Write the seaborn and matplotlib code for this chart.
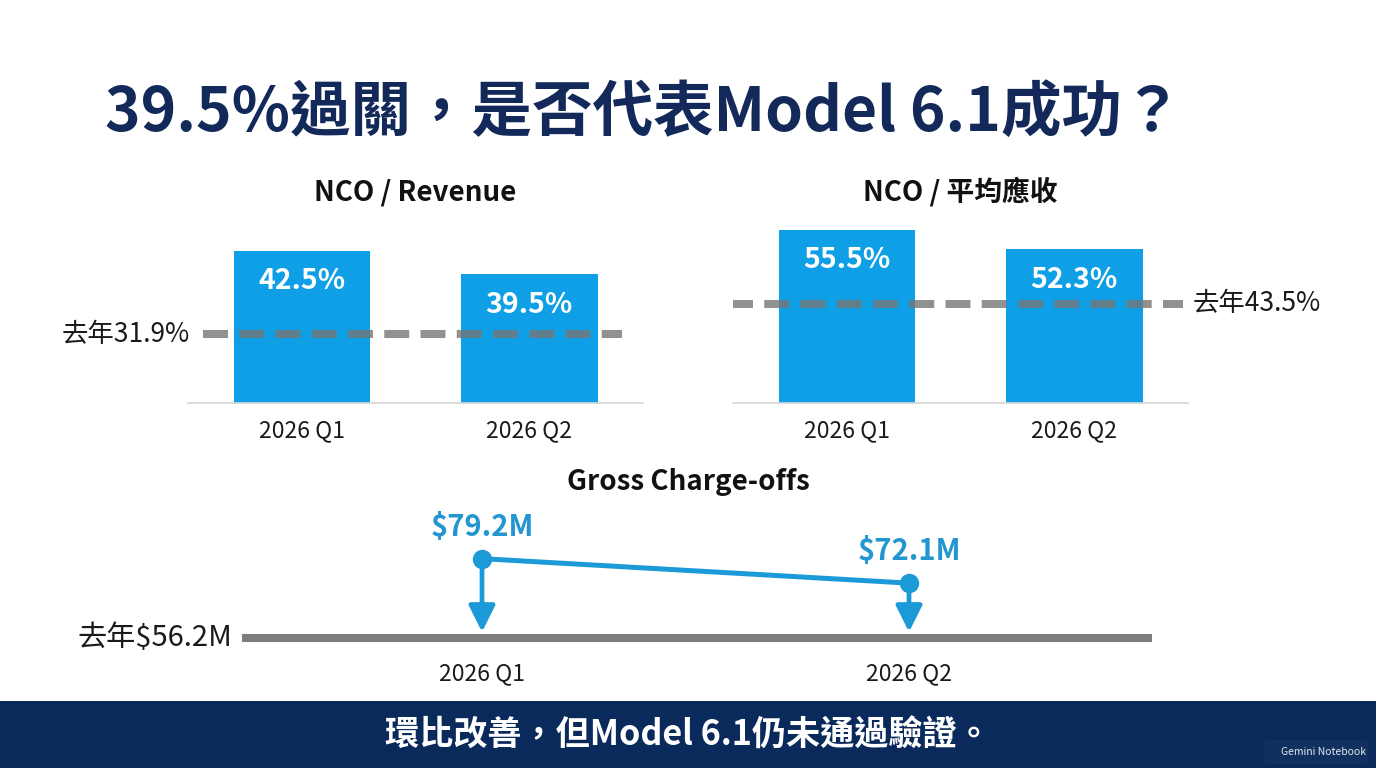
import matplotlib
matplotlib.use("Agg")
import matplotlib.pyplot as plt
import seaborn as sns
from matplotlib.patches import Rectangle, FancyBboxPatch

# ---------------- data ----------------
quarters = ["2026 Q1", "2026 Q2"]
nco_revenue = [42.5, 39.5]
nco_revenue_last_year = 31.9
nco_avg_recv = [55.5, 52.3]
nco_avg_recv_last_year = 43.5
gross_chargeoffs = [79.2, 72.1]
gross_last_year = 56.2

title_text = "39.5%過關，是否代表Model 6.1成功？"
footer_text = "環比改善，但Model 6.1仍未通過驗證。"
sub1 = "NCO / Revenue"
sub2 = "NCO / 平均應收"
sub3 = "Gross Charge-offs"
watermark = "Gemini Notebook"

# ---------------- style ----------------
sns.set_theme(style="white")
FAM = ["Noto Sans CJK TC", "DejaVu Sans"]
plt.rcParams["font.family"] = FAM
plt.rcParams["axes.unicode_minus"] = False

BLUE = "#0E9FE6"
LINE_BLUE = "#1C9AD8"
LABEL_BLUE = "#2396D2"
NAVY = "#12295A"
FOOT = "#0B2A5C"
GRAY = "#767676"
TXT = "#1A1A1A"

W, H = 1376, 768
fig = plt.figure(figsize=(W / 100, H / 100), dpi=100)
fig.patch.set_facecolor("white")


def px_axes(x0, x1, ytop, ybot):
    return fig.add_axes([x0 / W, 1 - ybot / H, (x1 - x0) / W, (ybot - ytop) / H])


def fig_text(x, y, s, **kw):
    fig.text(x / W, 1 - y / H, s, **kw)


# ---------------- title ----------------
fig_text(105, 113, title_text, fontsize=43.6, fontweight="bold", color=NAVY,
         ha="left", va="center", family=FAM)


# ---------------- bar panels ----------------
def bar_panel(x0, x1, vals, ref, ylim, subtitle, ref_label, label_side):
    ax = px_axes(x0, x1, 215, 403)
    ax.set_facecolor("none")
    sns.barplot(x=quarters, y=vals, ax=ax, color=BLUE, saturation=1,
                width=0.6, edgecolor="none")
    ax.set_xlim(-0.5, 1.5)
    ax.set_ylim(*ylim)
    for s in ["top", "right", "left"]:
        ax.spines[s].set_visible(False)
    ax.spines["bottom"].set_color("#D6D6D6")
    ax.spines["bottom"].set_linewidth(1.2)
    ax.spines["bottom"].set_zorder(5)
    ax.set_yticks([])
    ax.set_ylabel("")
    ax.tick_params(axis="x", length=0, pad=12, labelsize=16.5, labelcolor=TXT)
    for i, v in enumerate(vals):
        ax.annotate(f"{v:.1f}%", xy=(i, v), xytext=(0, -22),
                    textcoords="offset points", ha="center", va="center",
                    fontsize=20.5, fontweight="bold", color="white", family=FAM,
                    zorder=6)
    if label_side == "left":
        ax.axhline(ref, xmin=0.033, xmax=0.953, color=GRAY, alpha=0.8,
                   lw=5.8, linestyle=(0, (3.1, 1.4)), zorder=4)
        ax.annotate(ref_label, xy=(0, ref), xycoords=("axes fraction", "data"),
                    xytext=(1, 0), textcoords="offset points",
                    ha="right", va="center", fontsize=19, color=TXT, family=FAM)
    else:
        ax.axhline(ref, xmin=-0.011, xmax=0.99, color=GRAY, alpha=0.8,
                   lw=5.8, linestyle=(0, (3.1, 1.4)), zorder=4)
        ax.annotate(ref_label, xy=(1, ref), xycoords=("axes fraction", "data"),
                    xytext=(3, 0), textcoords="offset points",
                    ha="left", va="center", fontsize=19, color=TXT, family=FAM)
    fig_text((x0 + x1) / 2, 192, subtitle, fontsize=20, fontweight="bold",
             color="#111111", ha="center", va="center", family=FAM)
    return ax


# the reference draws these panels on a truncated value axis
bar_panel(188, 643, nco_revenue, nco_revenue_last_year, (23.2, 23.2 + 188 / 7.9),
          sub1, f"去年{nco_revenue_last_year:.1f}%", "left")
bar_panel(733, 1188, nco_avg_recv, nco_avg_recv_last_year, (27.45, 27.45 + 188 / 6.18),
          sub2, f"去年{nco_avg_recv_last_year:.1f}%", "right")

# ---------------- gross charge-offs ----------------
k = 3.45  # px per $M
axb = px_axes(242, 1152, 500, 650)
axb.set_facecolor("none")
x_pos = list(range(len(quarters)))
axb.axhline(gross_last_year, color="#7E7E7E", lw=5.8, solid_capstyle="butt", zorder=1)
sns.lineplot(x=x_pos, y=gross_chargeoffs, ax=axb, color=LINE_BLUE, lw=3.6,
             marker="o", markersize=14, markeredgewidth=0, zorder=4)
axb.set_xlim((242 - 482) / 427, (1152 - 482) / 427)
axb.set_ylim(gross_last_year - 12 / k, gross_last_year + 138 / k)
for i, v in enumerate(gross_chargeoffs):
    axb.annotate("", xy=(i, gross_last_year + 6 / k), xytext=(i, v),
                 arrowprops=dict(arrowstyle="-|>,head_length=1.0,head_width=0.5",
                                 lw=3.4, color=LINE_BLUE, shrinkA=0, shrinkB=0,
                                 mutation_scale=16), zorder=3)
    axb.annotate(f"${v:.1f}M", xy=(i, v), xytext=(0, 23),
                 textcoords="offset points", ha="center", va="center",
                 fontsize=21, fontweight="bold", color=LABEL_BLUE, family=FAM)
axb.set_xticks(x_pos)
axb.set_xticklabels(quarters)
axb.tick_params(axis="x", length=0, pad=8.5, labelsize=16.5, labelcolor=TXT)
axb.set_yticks([])
for s in axb.spines.values():
    s.set_visible(False)
axb.annotate(f"去年${gross_last_year:.1f}M", xy=(0, gross_last_year),
             xycoords=("axes fraction", "data"), xytext=(-7, 0),
             textcoords="offset points", ha="right", va="center",
             fontsize=21, color=TXT, family=FAM)
fig_text(688, 482, sub3, fontsize=20, fontweight="bold", color="#111111",
         ha="center", va="center", family=FAM)

# ---------------- footer ----------------
fig.patches.append(Rectangle((0, 0), 1, (H - 701) / H, transform=fig.transFigure,
                             facecolor=FOOT, edgecolor="none", zorder=0))
fig_text(688, 735, footer_text, fontsize=24.6, fontweight="bold", color="white",
         ha="center", va="center", family=FAM)
fig.patches.append(FancyBboxPatch((1264 / W, 1 - 764 / H), 104 / W, 24 / H,
                                  boxstyle="round,pad=0,rounding_size=0.004",
                                  transform=fig.transFigure, facecolor="#10305F",
                                  edgecolor="none", zorder=1))
fig_text(1324, 752, watermark, fontsize=7.5, color="#E6E9F0",
         ha="center", va="center", family=FAM)

fig.savefig("out.png", dpi=100, facecolor="white")
